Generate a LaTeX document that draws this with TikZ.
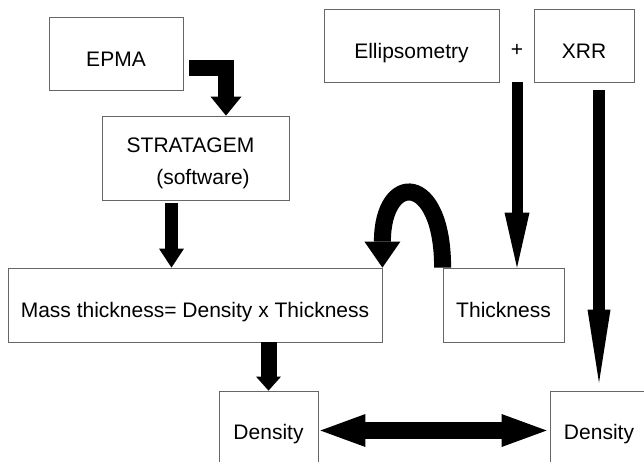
\documentclass[tikz,border=0pt]{standalone}
\usepackage{fontspec}
\setmainfont{Liberation Sans}
\usetikzlibrary{arrows.meta}

\begin{document}
\begin{tikzpicture}[
    x=1pt, y=-1pt,
    box/.style={rectangle, draw=black!60, line width=0.8pt, fill=white, inner sep=0pt, font=\fontsize{21pt}{25pt}\selectfont, text height=25pt, text depth=0pt},
    txt/.style={inner sep=0pt, font=\fontsize{21pt}{25pt}\selectfont},
    fat/.style={draw=black, line width=#1},
    bighead/.style 2 args={-{Triangle[width=#1, length=#2, line width=0pt]}}
]

\clip (0,0) rectangle (644,461);

\node[box, minimum width=134pt, minimum height=73pt] (EPMA) at (116,53.5) {EPMA};
\node[box, minimum width=187pt, minimum height=84pt] (STRAT) at (195.5,158) {};
\node[txt] (STRATname) at (190.5,145.5) {STRATAGEM};
\node[txt] (STRATsoft) at (203,179) {(software)};

\node[box, minimum width=175pt, minimum height=73pt] (Ellip) at (411.5,45.5) {Ellipsometry};
\node[txt] (plus) at (517,50) {+};
\node[box, minimum width=100pt, minimum height=73pt] (XRR) at (584,45.5) {XRR};

\node[box, minimum width=374pt, minimum height=74pt] (Mass) at (195,305) {Mass thickness= Density x Thickness};
\node[box, minimum width=121pt, minimum height=74pt] (Thick) at (503.5,305) {Thickness};

\node[box, minimum width=99pt, minimum height=72pt] (DensL) at (268.5,427) {Density};
\node[box, minimum width=98pt, minimum height=72pt] (DensR) at (599,427) {Density};

\draw[fat=16pt, bighead={31pt}{19pt}] ([xshift=6pt,yshift=-14pt]EPMA.east) -| ([xshift=30.5pt]STRAT.north);
\draw[fat=13pt, bighead={25pt}{19pt}] ([xshift=-24pt,yshift=-3pt]STRAT.south) -- ([xshift=-24pt]STRAT.south |- Mass.north);
\draw[fat=16pt, bighead={25pt}{14pt}] (Mass.south -| DensL.north) -- (DensL.north);

\draw[fat=11pt, bighead={25pt}{55pt}] (plus |- Ellip.south) -- (plus |- Thick.north);
\draw[fat=12pt, bighead={23pt}{73pt}] ([yshift=-8pt]XRR.south -| DensR.north) -- ([yshift=8pt]DensR.north);

\draw[fat=17pt, bighead={36pt}{26pt}] (Thick.north west) .. controls +(0,-96) and +(0,-96) .. (Mass.north east);

\draw[fat=17pt, {Triangle[width=33pt, length=45pt, line width=0pt]}-{Triangle[width=33pt, length=45pt, line width=0pt]}] ([xshift=2pt,yshift=-3.5pt]DensL.east) -- ([xshift=-3pt,yshift=-3.5pt]DensR.west);

\end{tikzpicture}
\end{document}
